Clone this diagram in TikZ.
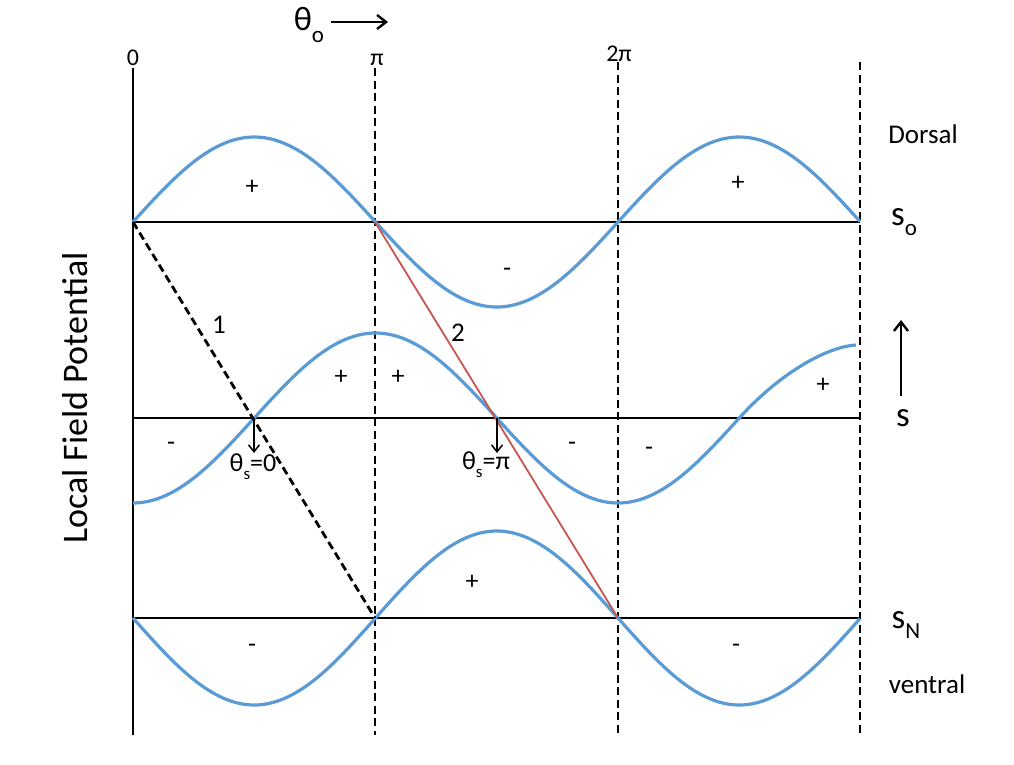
\documentclass[tikz,border=0pt]{standalone}
\usepackage{fontspec}
\setmainfont{Carlito}
\usetikzlibrary{arrows.meta}
\definecolor{wave}{RGB}{91,155,213}
\definecolor{redline}{RGB}{200,85,80}
\tikzset{
  axis/.style={line width=2.8pt,black},
  dashax/.style={line width=2.8pt,black,dash pattern=on 8pt off 4.5pt},
  wavec/.style={line width=3.2pt,wave},
  lbl/.style={inner sep=0pt,font=\fontsize{24}{26}\selectfont},
  sgn/.style={inner sep=0pt,font=\fontsize{26}{28}\selectfont},
  big/.style={inner sep=0pt,font=\fontsize{35}{37}\selectfont},
  mid/.style={inner sep=0pt,font=\fontsize{27}{30}\selectfont},
  arr/.style={line width=2.4pt,-{Straight Barb[length=9pt,width=14pt]}},
  sarr/.style={line width=1.5pt,-{Straight Barb[length=7pt,width=11pt]}},
}
\begin{document}
\begin{tikzpicture}[x=1pt,y=-1pt]
\useasboundingbox (0,0) rectangle (1014,764);
% coordinates
\coordinate (v0t) at (133,68);  \coordinate (v0b) at (133,735);
\coordinate (v1t) at (375,68);  \coordinate (v1b) at (375,735);
\coordinate (v2t) at (618,62);  \coordinate (v2b) at (618,735);
\coordinate (v3t) at (860,62);  \coordinate (v3b) at (860,735);
\coordinate (a0) at (133,222); \coordinate (a3) at (860,222);
\coordinate (b0) at (133,418); \coordinate (b3) at (860,418);
\coordinate (c0) at (133,618); \coordinate (c3) at (860,618);
\coordinate (a1) at (375,222); \coordinate (c1) at (375,618);
\coordinate (c2) at (618,618);
\coordinate (bz1) at (254,418); \coordinate (bz2) at (497,418);
\coordinate (bd1) at (254,453); \coordinate (bd2) at (497,453);
% axes
\draw[axis] (v0t) -- (v0b);
\draw[dashax] (v1t) -- (v1b);
\draw[dashax] (v2t) -- (v2b);
\draw[dashax] (v3t) -- (v3b);
\draw[axis] (a0) -- (a3);
\draw[axis] (b0) -- (b3);
\draw[axis] (c0) -- (c3);
% waves
\draw[wavec,samples=120,domain=133:860,smooth] plot (\x,{222-85*sin((\x-133)/242.5*180)});
\draw[wavec,samples=100,domain=133:739,smooth] plot (\x,{418+85*cos((\x-133)/242.5*180)})
   .. controls (778,375) and (825,347) .. (856,345);
\draw[wavec,samples=120,domain=133:860,smooth] plot (\x,{618+87*sin((\x-133)/242.5*180)});
% slanted lines
\draw[dashax] (a0) -- (c1);
\draw[line width=1.8pt,redline] (a1) -- (c2);
% arrows
\draw[sarr] (bz1) -- (bd1);
\draw[sarr] (bz2) -- (bd2);
\coordinate (sa) at (901,396); \coordinate (sb) at (901,320);
\draw[arr] (sa) -- (sb);
\coordinate (ta) at (331,22); \coordinate (tb) at (388,22);
\draw[arr] (ta) -- (tb);
% labels
\node[inner sep=0pt,font=\fontsize{34}{36}\selectfont] (th) at (309,25) {θ\raisebox{-0.35em}{\fontsize{23}{25}\selectfont o}};
\node[lbl] (l0) at (133,58) {0};
\node[lbl] (lpi) at (377,60) {π};
\node[lbl] (l2pi) at (619,54) {2π};
\node[mid] (dors) at (923,134) {Dorsal};
\node[big] (so) at (904,222) {s\raisebox{-0.3em}{\fontsize{23}{25}\selectfont o}};
\node[big] (s) at (903,418) {s};
\node[big] (sn) at (906,625) {s\raisebox{-0.3em}{\fontsize{23}{25}\selectfont N}};
\node[mid] (vent) at (927,684) {ventral};
\node[inner sep=0pt,font=\fontsize{36}{38}\selectfont,rotate=90] (lfp) at (75,398) {Local Field Potential};
\node[sgn] (p1) at (252,187) {+};
\node[sgn] (p2) at (738,183) {+};
\node[sgn] (m1) at (507,272) {-};
\node[mid] (n1) at (219,325) {1};
\node[mid] (n2) at (458,333) {2};
\node[sgn] (p3) at (341,377) {+};
\node[sgn] (p4) at (398,377) {+};
\node[sgn] (p5) at (823,385) {+};
\node[sgn] (m2) at (171,446) {-};
\node[sgn] (m3) at (572,446) {-};
\node[sgn] (m4) at (649,451) {-};
\node[inner sep=0pt,font=\fontsize{26}{28}\selectfont] (ts0) at (253,467) {θ\raisebox{-0.3em}{\fontsize{17}{18}\selectfont s}=0};
\node[inner sep=0pt,font=\fontsize{26}{28}\selectfont] (tspi) at (486,465) {θ\raisebox{-0.3em}{\fontsize{17}{18}\selectfont s}=π};
\node[sgn] (p6) at (472,582) {+};
\node[sgn] (m5) at (252,648) {-};
\node[sgn] (m6) at (736,648) {-};
\end{tikzpicture}
\end{document}
